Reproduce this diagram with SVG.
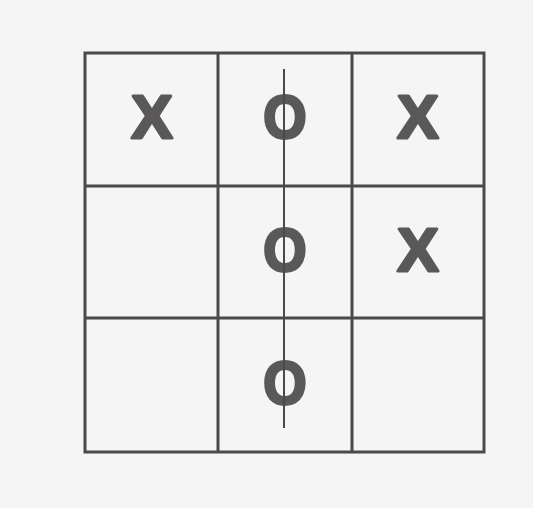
<svg xmlns="http://www.w3.org/2000/svg" width="533" height="508" viewBox="0 0 533 508">
<style>
.ln{stroke:#4a4a4a;stroke-width:3;fill:none}
.mk{font-family:"Liberation Sans",Arial,sans-serif;font-weight:700;font-size:62px;fill:#5a5858;stroke:#5a5858;stroke-width:3;stroke-linejoin:round;text-anchor:middle}
</style>
<rect width="533" height="508" fill="#f5f5f5"/>
<g id="grid">
<rect class="ln" x="85" y="53" width="399" height="399"/>
<line class="ln" x1="218" y1="53" x2="218" y2="452"/>
<line class="ln" x1="352" y1="53" x2="352" y2="452"/>
<line class="ln" x1="85" y1="186" x2="484" y2="186"/>
<line class="ln" x1="85" y1="318" x2="484" y2="318"/>
</g>
<g id="marks">
<text class="mk" x="152" y="138">X</text>
<text class="mk" x="285" y="138" transform="translate(285 0) scale(0.9 1) translate(-285 0)">O</text>
<text class="mk" x="418" y="138">X</text>
<text class="mk" x="285" y="271" transform="translate(285 0) scale(0.9 1) translate(-285 0)">O</text>
<text class="mk" x="418" y="271">X</text>
<text class="mk" x="285" y="404" transform="translate(285 0) scale(0.9 1) translate(-285 0)">O</text>
</g>
<g id="connectors">
<line x1="284" y1="69" x2="284" y2="428" stroke="#4a4a4a" stroke-width="2"/>
</g>
</svg>
